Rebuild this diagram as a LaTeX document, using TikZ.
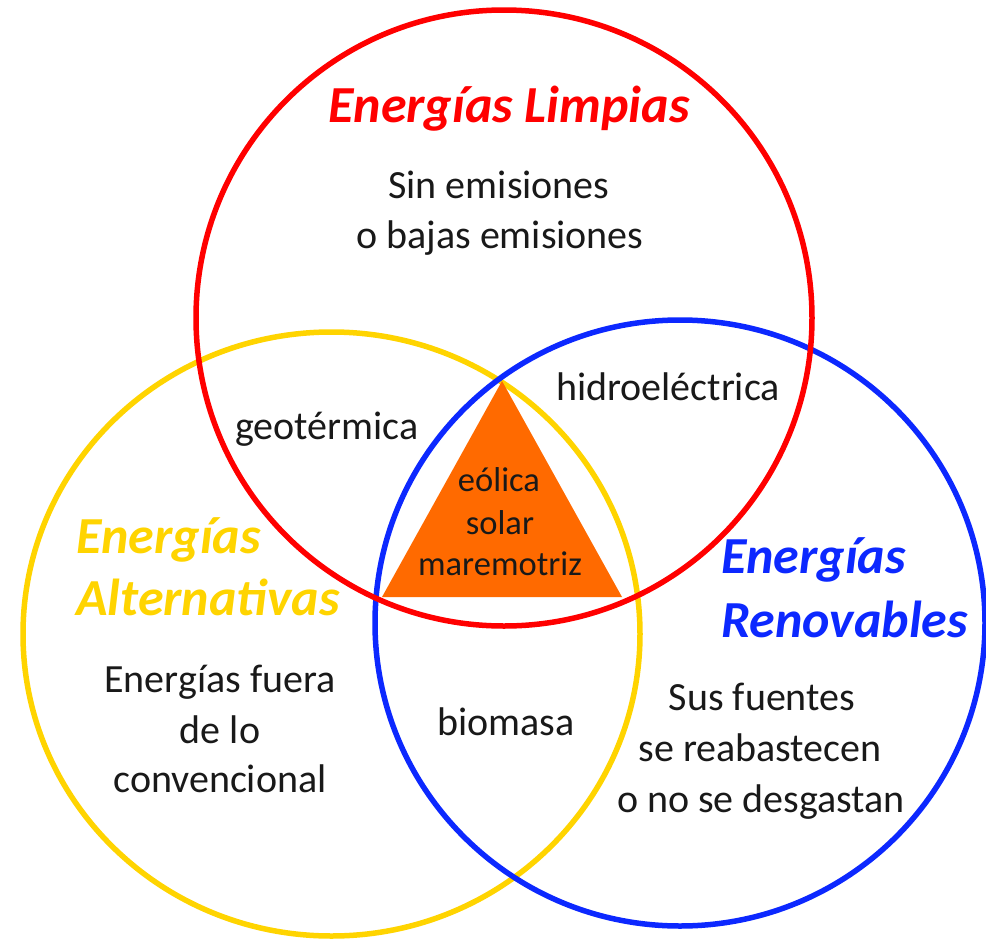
\documentclass[tikz,border=0pt]{standalone}
\usepackage{fontspec}
\setmainfont{Carlito}
\definecolor{cred}{RGB}{255,0,0}
\definecolor{cyellow}{RGB}{255,212,0}
\definecolor{cblue}{RGB}{12,40,255}
\definecolor{corange}{RGB}{255,106,0}
\definecolor{ctext}{RGB}{25,25,25}
\begin{document}
\begin{tikzpicture}[x=1pt,y=-1pt,
  ring/.style={line width=5.5pt},
  body/.style={anchor=base, inner sep=0pt, text=ctext, font=\fontsize{40}{50}\selectfont},
  inner/.style={anchor=base, inner sep=0pt, text=ctext, font=\fontsize{34.5}{43}\selectfont},
  title/.style={inner sep=0pt, font=\fontsize{52}{63}\selectfont\bfseries\itshape}
]
\useasboundingbox (0,0) rectangle (986,940);
\fill[white] (0,0) rectangle (986,940);

% circles
\draw[ring, cyellow] (331.5,634) ellipse [x radius=308.5pt, y radius=302pt];
\draw[ring, cblue] (680,623) ellipse [x radius=305pt, y radius=303pt];
\draw[ring, cred] (504,318) circle [radius=308pt];

% central triangle
\fill[corange] (502,381) -- (622,597) -- (382,597) -- cycle;

% titles
\node[title, text=cred, anchor=base] (tl) at (509,122) {Energías Limpias};
\node[title, text=cyellow, anchor=base west] (ta1) at (76,553) {Energías};
\node[title, text=cyellow, anchor=base west] (ta2) at (76,615) {Alternativas};
\node[title, text=cblue, anchor=base west] (tr1) at (721,573) {Energías};
\node[title, text=cblue, anchor=base west] (tr2) at (721,637) {Renovables};

% descriptions
\node[body] (l1) at (499,198) {Sin emisiones};
\node[body] (l2) at (500,248) {o bajas emisiones};
\node[body] (a1) at (220,692) {Energías fuera};
\node[body] (a2) at (220,743) {de lo};
\node[body] (a3) at (220,792) {convencional};
\node[body] (r1) at (762,710) {Sus fuentes};
\node[body] (r2) at (760,761) {se reabastecen};
\node[body] (r3) at (761,812) {o no se desgastan};

% intersections
\node[body] (geo) at (327,439) {geotérmica};
\node[body] (hid) at (668,400) {hidroeléctrica};
\node[body] (bio) at (506,735) {biomasa};
\node[inner] (c1) at (499,491) {eólica};
\node[inner] (c2) at (500,534) {solar};
\node[inner] (c3) at (500,575) {maremotriz};
\end{tikzpicture}
\end{document}
